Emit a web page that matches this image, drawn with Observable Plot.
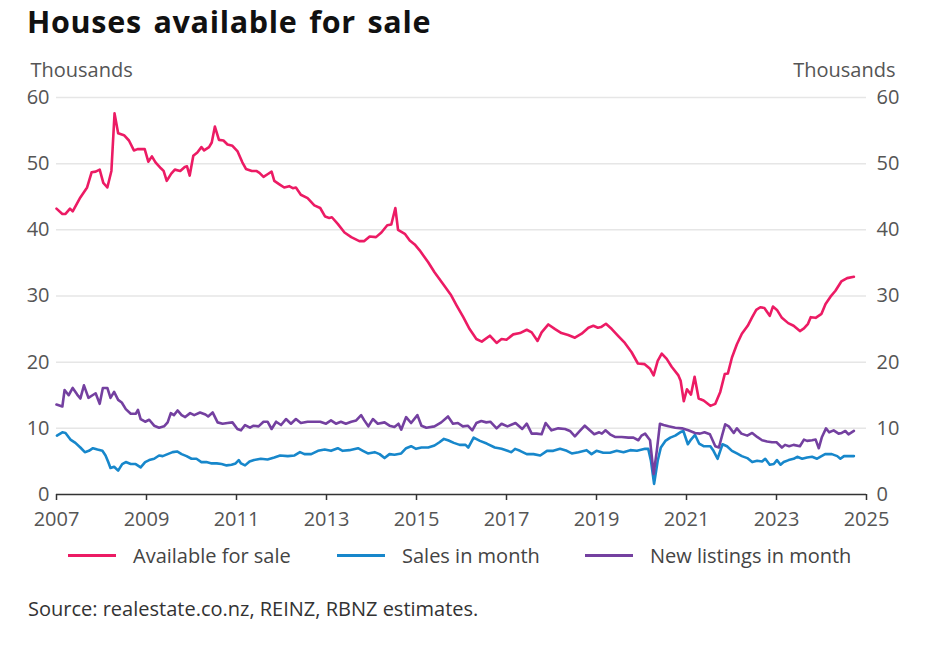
<!DOCTYPE html>
<html><head><meta charset="utf-8">
<script src="https://cdn.jsdelivr.net/npm/d3@7"></script>
<script src="https://cdn.jsdelivr.net/npm/@observablehq/plot@0.6"></script>
<style>
body{margin:0;background:#fff;width:944px;height:647px;position:relative;overflow:hidden;font-family:"Open Sans",sans-serif;}
#title{position:absolute;left:27px;top:4px;font-family:"Open Sans",sans-serif;font-weight:700;font-size:30.5px;color:#111;line-height:34px;white-space:nowrap;letter-spacing:0.7px;word-spacing:3px;}
#chart{position:absolute;left:0;top:50px;}
.leg{position:absolute;top:542px;height:26px;display:flex;align-items:center;font-size:20px;color:#444;white-space:nowrap;}
.leg .sw{display:inline-block;width:48px;height:3px;margin-right:17px;}
#source{position:absolute;left:28px;top:595px;font-size:20px;color:#333;white-space:nowrap;}
</style></head>
<body>
<div id="title">Houses available for sale</div>
<div id="chart"></div>
<div id="legend"></div>
<div id="source">Source: realestate.co.nz, REINZ, RBNZ estimates.</div>
<script>
// ---- data (year as decimal, value in thousands) ----
const availableForSale = [[2007.00,43.2],[2007.13,42.4],[2007.2,42.4],[2007.3,43.2],[2007.36,42.8],[2007.53,44.9],[2007.68,46.4],[2007.78,48.7],[2007.87,48.8],[2007.96,49.1],[2008.04,47.1],[2008.13,46.4],[2008.22,48.9],[2008.29,57.6],[2008.37,54.6],[2008.5,54.3],[2008.61,53.5],[2008.72,52.0],[2008.8,52.2],[2008.96,52.2],[2009.04,50.3],[2009.12,51.1],[2009.2,50.2],[2009.32,49.3],[2009.38,48.9],[2009.45,47.4],[2009.55,48.5],[2009.63,49.1],[2009.75,48.9],[2009.85,49.5],[2009.9,49.6],[2009.96,48.2],[2010.04,51.2],[2010.13,51.7],[2010.22,52.5],[2010.28,52.0],[2010.39,52.5],[2010.45,53.2],[2010.52,55.6],[2010.61,53.6],[2010.71,53.5],[2010.8,52.9],[2010.91,52.7],[2011.02,51.9],[2011.13,50.2],[2011.21,49.2],[2011.34,48.9],[2011.44,48.9],[2011.51,48.6],[2011.6,48.0],[2011.69,48.4],[2011.78,48.8],[2011.84,47.4],[2011.97,46.8],[2012.06,46.4],[2012.17,46.6],[2012.25,46.3],[2012.32,46.4],[2012.43,45.3],[2012.58,44.8],[2012.73,43.7],[2012.86,43.3],[2012.97,42.0],[2013.06,41.8],[2013.12,41.9],[2013.25,40.9],[2013.4,39.6],[2013.55,38.9],[2013.73,38.3],[2013.84,38.3],[2013.96,39.0],[2014.1,38.9],[2014.22,39.6],[2014.35,40.7],[2014.44,40.8],[2014.53,43.3],[2014.59,40.0],[2014.74,39.4],[2014.85,38.4],[2014.96,37.8],[2015.07,36.9],[2015.26,35.1],[2015.4,33.6],[2015.59,31.8],[2015.77,30.1],[2015.89,28.6],[2016.04,26.8],[2016.18,25.0],[2016.33,23.5],[2016.45,23.1],[2016.63,24.0],[2016.78,22.9],[2016.89,23.5],[2017.0,23.4],[2017.15,24.2],[2017.3,24.4],[2017.45,24.9],[2017.56,24.5],[2017.69,23.2],[2017.78,24.5],[2017.93,25.7],[2018.08,25.0],[2018.22,24.4],[2018.37,24.1],[2018.52,23.7],[2018.67,24.3],[2018.82,25.2],[2018.93,25.5],[2019.03,25.2],[2019.1,25.3],[2019.21,25.8],[2019.34,25.0],[2019.49,23.9],[2019.63,22.9],[2019.78,21.5],[2019.92,19.8],[2020.07,19.7],[2020.19,19.0],[2020.27,18.0],[2020.36,20.2],[2020.45,21.3],[2020.56,20.5],[2020.67,19.3],[2020.82,18.0],[2020.87,17.2],[2020.94,14.1],[2021.01,15.9],[2021.1,15.1],[2021.18,17.8],[2021.27,14.5],[2021.38,14.2],[2021.53,13.4],[2021.64,13.7],[2021.75,15.5],[2021.85,18.2],[2021.92,18.3],[2022.01,20.7],[2022.12,22.7],[2022.23,24.3],[2022.36,25.5],[2022.46,26.8],[2022.55,27.9],[2022.64,28.3],[2022.73,28.2],[2022.85,27.0],[2022.92,28.4],[2023.01,27.9],[2023.12,26.7],[2023.26,25.9],[2023.38,25.5],[2023.52,24.7],[2023.61,25.1],[2023.7,25.8],[2023.76,26.8],[2023.87,26.7],[2024.0,27.3],[2024.09,28.8],[2024.2,29.9],[2024.31,30.8],[2024.44,32.2],[2024.57,32.7],[2024.72,32.9]];

const salesInMonth = [[2007.01,8.9],[2007.13,9.4],[2007.2,9.3],[2007.31,8.3],[2007.42,7.8],[2007.53,7.1],[2007.63,6.4],[2007.72,6.6],[2007.81,7.0],[2007.91,6.8],[2008.02,6.6],[2008.09,5.9],[2008.15,4.9],[2008.2,4.0],[2008.28,4.2],[2008.37,3.6],[2008.46,4.6],[2008.54,4.9],[2008.65,4.6],[2008.76,4.6],[2008.87,4.1],[2008.97,4.9],[2009.06,5.2],[2009.17,5.4],[2009.28,5.9],[2009.36,5.8],[2009.47,6.1],[2009.58,6.4],[2009.68,6.5],[2009.78,6.1],[2009.89,5.8],[2010.0,5.4],[2010.11,5.4],[2010.22,4.9],[2010.33,4.9],[2010.45,4.7],[2010.56,4.7],[2010.67,4.6],[2010.78,4.4],[2010.89,4.5],[2010.98,4.7],[2011.05,5.2],[2011.1,4.7],[2011.19,4.4],[2011.29,5.0],[2011.39,5.2],[2011.54,5.4],[2011.69,5.3],[2011.84,5.6],[2011.97,5.9],[2012.14,5.8],[2012.29,5.9],[2012.41,6.4],[2012.51,6.1],[2012.66,6.1],[2012.81,6.6],[2012.96,6.8],[2013.1,6.6],[2013.25,7.0],[2013.36,6.6],[2013.51,6.7],[2013.7,7.0],[2013.81,6.6],[2013.92,6.2],[2014.07,6.4],[2014.18,6.1],[2014.29,5.5],[2014.4,6.1],[2014.51,6.0],[2014.66,6.2],[2014.77,7.0],[2014.88,7.3],[2014.99,6.9],[2015.11,7.1],[2015.26,7.1],[2015.4,7.4],[2015.51,7.9],[2015.61,8.4],[2015.7,8.2],[2015.83,7.8],[2015.96,7.5],[2016.09,7.5],[2016.15,7.1],[2016.27,8.6],[2016.41,8.1],[2016.56,7.7],[2016.74,7.1],[2016.89,6.9],[2017.11,6.4],[2017.19,6.9],[2017.3,6.6],[2017.45,6.1],[2017.6,6.1],[2017.75,5.9],[2017.9,6.6],[2018.04,6.6],[2018.19,6.9],[2018.34,6.6],[2018.45,6.2],[2018.6,6.4],[2018.78,6.7],[2018.89,6.1],[2019.0,6.6],[2019.15,6.3],[2019.3,6.3],[2019.45,6.6],[2019.6,6.4],[2019.75,6.7],[2019.9,6.6],[2020.08,6.9],[2020.15,6.9],[2020.21,5.1],[2020.28,1.6],[2020.36,5.1],[2020.43,7.1],[2020.53,8.1],[2020.64,8.6],[2020.75,8.9],[2020.86,9.4],[2020.93,9.6],[2021.03,7.6],[2021.1,8.3],[2021.19,9.0],[2021.28,7.7],[2021.38,7.3],[2021.53,7.3],[2021.6,6.6],[2021.69,5.4],[2021.75,6.6],[2021.8,7.6],[2021.9,7.3],[2022.01,6.6],[2022.12,6.2],[2022.23,5.8],[2022.35,5.5],[2022.46,4.9],[2022.57,5.1],[2022.68,5.0],[2022.75,5.4],[2022.85,4.5],[2022.94,4.6],[2023.01,5.2],[2023.09,4.5],[2023.16,4.9],[2023.27,5.2],[2023.38,5.4],[2023.46,5.7],[2023.57,5.4],[2023.68,5.6],[2023.79,5.7],[2023.9,5.4],[2023.97,5.7],[2024.08,6.1],[2024.23,6.1],[2024.35,5.8],[2024.42,5.4],[2024.5,5.8],[2024.61,5.8],[2024.72,5.8]];

const newListingsInMonth = [[2007.0,13.6],[2007.13,13.3],[2007.18,15.8],[2007.27,15.0],[2007.36,16.1],[2007.46,15.1],[2007.53,14.5],[2007.61,16.5],[2007.71,14.6],[2007.8,15.0],[2007.87,15.3],[2007.96,13.7],[2008.03,16.1],[2008.13,16.1],[2008.2,14.6],[2008.28,15.5],[2008.37,14.3],[2008.45,13.9],[2008.54,12.9],[2008.65,12.2],[2008.76,12.2],[2008.81,12.8],[2008.87,11.4],[2008.97,11.0],[2009.06,11.3],[2009.17,10.4],[2009.28,10.1],[2009.39,10.3],[2009.47,10.9],[2009.54,12.3],[2009.61,12.0],[2009.69,12.7],[2009.78,12.0],[2009.86,11.7],[2009.97,12.3],[2010.06,12.0],[2010.19,12.4],[2010.31,12.1],[2010.37,11.8],[2010.47,12.4],[2010.58,10.9],[2010.69,10.7],[2010.8,10.8],[2010.91,10.9],[2011.02,9.9],[2011.1,9.7],[2011.19,10.5],[2011.3,10.1],[2011.38,10.4],[2011.49,10.3],[2011.6,11.0],[2011.69,11.0],[2011.78,9.9],[2011.88,11.0],[2011.99,10.5],[2012.1,11.4],[2012.21,10.7],[2012.32,11.4],[2012.43,10.8],[2012.58,11.0],[2012.73,11.0],[2012.86,11.0],[2012.99,10.7],[2013.1,11.2],[2013.21,10.7],[2013.32,11.0],[2013.43,10.7],[2013.55,11.0],[2013.66,11.2],[2013.77,12.0],[2013.84,11.2],[2013.93,10.3],[2014.03,11.4],[2014.14,10.7],[2014.29,10.9],[2014.4,10.4],[2014.51,10.2],[2014.6,10.7],[2014.66,9.8],[2014.77,11.7],[2014.88,10.8],[2015.02,12.0],[2015.11,10.4],[2015.22,10.1],[2015.4,10.3],[2015.55,10.9],[2015.7,11.8],[2015.81,10.7],[2015.92,10.8],[2016.03,10.3],[2016.14,10.4],[2016.24,9.7],[2016.33,10.8],[2016.44,11.1],[2016.55,10.9],[2016.64,11.0],[2016.78,10.0],[2016.89,10.7],[2017.02,10.3],[2017.2,10.8],[2017.35,9.9],[2017.45,10.7],[2017.56,9.2],[2017.67,9.2],[2017.78,9.1],[2017.87,10.8],[2018.0,9.7],[2018.15,10.0],[2018.3,9.9],[2018.41,9.6],[2018.52,8.8],[2018.63,9.6],[2018.74,10.4],[2018.85,9.7],[2018.95,9.1],[2019.06,9.4],[2019.12,9.2],[2019.2,9.7],[2019.3,9.1],[2019.41,8.7],[2019.56,8.7],[2019.71,8.6],[2019.82,8.6],[2019.93,8.2],[2020.0,8.9],[2020.08,9.2],[2020.19,8.2],[2020.27,3.1],[2020.34,6.6],[2020.41,10.7],[2020.49,10.5],[2020.6,10.3],[2020.75,10.1],[2020.9,10.0],[2021.04,9.7],[2021.19,9.3],[2021.3,9.2],[2021.4,9.4],[2021.52,9.1],[2021.64,7.3],[2021.72,7.1],[2021.79,8.9],[2021.86,10.6],[2021.94,10.3],[2022.05,9.3],[2022.12,10.0],[2022.22,9.2],[2022.35,8.9],[2022.46,9.3],[2022.57,8.7],[2022.68,8.2],[2022.79,8.0],[2022.9,7.9],[2023.0,7.9],[2023.12,7.1],[2023.19,7.5],[2023.28,7.3],[2023.38,7.5],[2023.52,7.3],[2023.61,8.3],[2023.68,8.1],[2023.79,8.2],[2023.87,8.3],[2023.94,7.0],[2024.01,8.7],[2024.1,10.0],[2024.17,9.4],[2024.27,9.7],[2024.38,9.2],[2024.45,9.3],[2024.53,9.6],[2024.6,9.1],[2024.72,9.6]];

const seriesNames = ["Available for sale", "Sales in month", "New listings in month"];
const xTicks = [2007, 2009, 2011, 2013, 2015, 2017, 2019, 2021, 2023, 2025];
const yTicks = [0, 10, 20, 30, 40, 50, 60];
const unitLabel = "Thousands";

// ---- styles ----
const colors = ["#ec1b64", "#1787cb", "#7440a0"];
const allSeries = [availableForSale, salesInMonth, newListingsInMonth];

const lineMarks = allSeries.map((s, i) =>
  Plot.line(s, {x: d => d[0], y: d => d[1], stroke: colors[i], strokeWidth: 2.6, strokeLinejoin: "round", curve: "linear"})
);

const chart = Plot.plot({
  width: 944,
  height: 489,
  marginTop: 47,
  marginBottom: 45,
  marginLeft: 56,
  marginRight: 78,
  style: {fontFamily: "'Open Sans', sans-serif", fontSize: "20px", color: "#555", background: "transparent"},
  x: {domain: [2007, 2025]},
  y: {domain: [0, 60]},
  marks: [
    Plot.gridY(yTicks.filter(d => d > 0), {stroke: "#e6e6e6", strokeOpacity: 1, strokeWidth: 1.5}),
    Plot.axisY(yTicks, {anchor: "left", tickSize: 0, tickPadding: 7, label: null, fill: "#555"}),
    Plot.axisY(yTicks, {anchor: "right", tickSize: 0, tickPadding: 10, label: null, fill: "#555"}),
    Plot.axisX(xTicks, {anchor: "bottom", tickSize: 6, tickPadding: 11, tickFormat: d => String(d), label: null, stroke: "#333", strokeWidth: 1.5, fill: "#555"}),
    Plot.ruleY([0], {stroke: "#333", strokeWidth: 1.5}),
    Plot.text([unitLabel], {frameAnchor: "top-left", textAnchor: "start", lineAnchor: "middle", dx: -26, dy: -27, fill: "#555", fontSize: 20}),
    Plot.text([unitLabel], {frameAnchor: "top-right", textAnchor: "end", lineAnchor: "middle", dx: 29, dy: -27, fill: "#555", fontSize: 20}),
    ...lineMarks
  ]
});
document.getElementById("chart").appendChild(chart);

// ---- legend ----
const legendLeft = [68, 337, 585];
const legend = document.getElementById("legend");
seriesNames.forEach((name, i) => {
  const item = document.createElement("div");
  item.className = "leg";
  item.style.left = legendLeft[i] + "px";
  const sw = document.createElement("span");
  sw.className = "sw";
  sw.style.background = colors[i];
  item.appendChild(sw);
  item.appendChild(document.createTextNode(name));
  legend.appendChild(item);
});
</script>
</body></html>
